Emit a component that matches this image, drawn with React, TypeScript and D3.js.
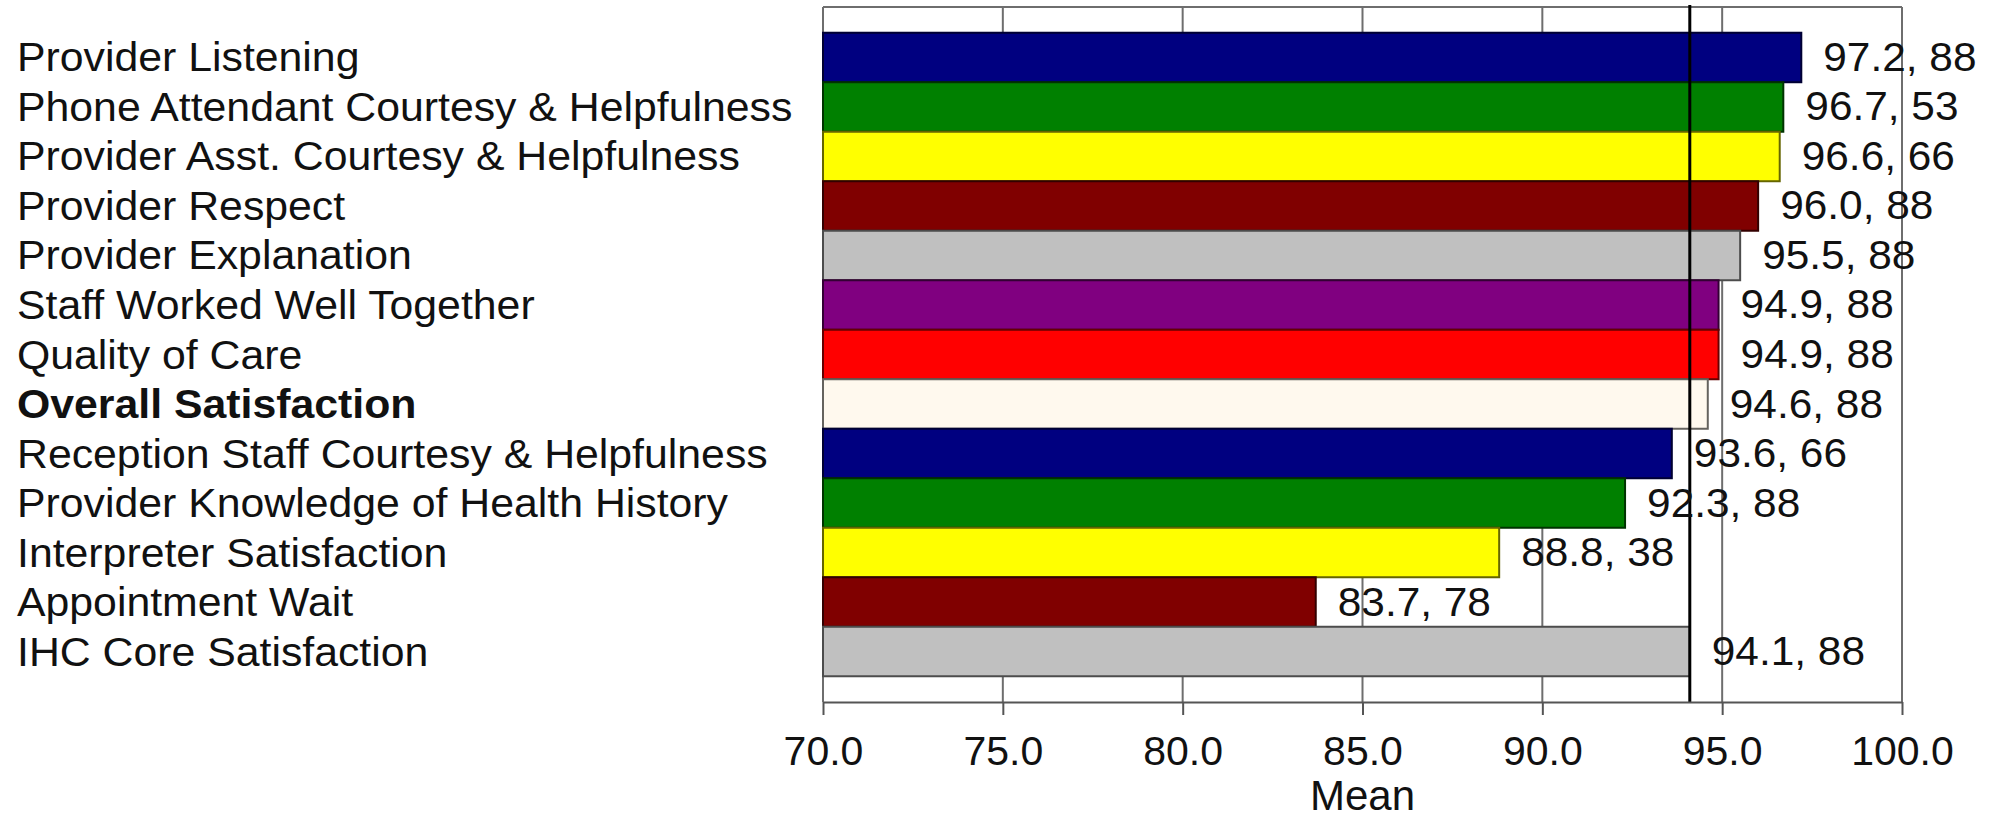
import React, { useEffect, useRef } from "react";
import * as d3 from "d3";

const categories = [
  "Provider Listening",
  "Phone Attendant Courtesy & Helpfulness",
  "Provider Asst. Courtesy & Helpfulness",
  "Provider Respect",
  "Provider Explanation",
  "Staff Worked Well Together",
  "Quality of Care",
  "Overall Satisfaction",
  "Reception Staff Courtesy & Helpfulness",
  "Provider Knowledge of Health History",
  "Interpreter Satisfaction",
  "Appointment Wait",
  "IHC Core Satisfaction",
];
const meanValues = [97.2, 96.7, 96.6, 96.0, 95.5, 94.9, 94.9, 94.6, 93.6, 92.3, 88.8, 83.7, 94.1];
const counts = [88, 53, 66, 88, 88, 88, 88, 88, 66, 88, 38, 78, 88];
const barColors = [
  "#000080", "#008000", "#FFFF00", "#800000", "#C0C0C0", "#800080", "#FF0000",
  "#FFF9EE", "#000080", "#008000", "#FFFF00", "#800000", "#C0C0C0",
];
const boldCategories = ["Overall Satisfaction"];
const referenceValue = 94.1;
const xDomain = [70, 100];
const xTicks = [70, 75, 80, 85, 90, 95, 100];
const xAxisTitle = "Mean";

const W = 1995;
const H = 820;
const plotLeft = 823;
const plotRight = 1902;
const plotTop = 7;
const plotBottom = 702;
const FONT = "'Liberation Sans', Arial, Helvetica, sans-serif";

export default function App() {
  const axisRef = useRef<SVGGElement>(null);
  const x = d3.scaleLinear().domain(xDomain).range([plotLeft, plotRight]);
  const y = d3
    .scaleBand<string>()
    .domain(categories)
    .range([plotTop, plotBottom])
    .paddingInner(0)
    .paddingOuter(0.52);

  useEffect(() => {
    if (!axisRef.current) return;
    const g = d3.select(axisRef.current);
    g.selectAll("*").remove();
    g.call(
      d3
        .axisBottom(x)
        .tickValues(xTicks)
        .tickFormat(d3.format(".1f") as any)
        .tickSize(13)
        .tickPadding(21)
        .tickSizeOuter(0)
    );
    g.select(".domain").attr("stroke", "#555").attr("stroke-width", 2);
    g.selectAll(".tick line").attr("stroke", "#555").attr("stroke-width", 2);
    g.selectAll(".tick text")
      .attr("fill", "#111")
      .style("font-family", FONT)
      .style("font-size", "41px");
  }, []);

  const bw = y.bandwidth();

  return (
    <div style={{ position: "absolute", left: 0, top: 0 }}>
      <svg width={W} height={H} style={{ display: "block", background: "#fff" }}>
        <rect x={0} y={0} width={W} height={H} fill="#fff" />
        {/* grid lines */}
        {xTicks.map((t) => (
          <line
            key={"g" + t}
            x1={x(t)}
            x2={x(t)}
            y1={plotTop}
            y2={plotBottom}
            stroke="#6e6e6e"
            strokeWidth={2}
          />
        ))}
        {/* top border */}
        <line x1={plotLeft} x2={plotRight} y1={plotTop} y2={plotTop} stroke="#6e6e6e" strokeWidth={2} />
        {/* bars */}
        {categories.map((c, i) => {
          const fill = barColors[i];
          const stroke = (d3.color(fill) as d3.RGBColor).darker(2.6).formatHex();
          return (
            <rect
              key={"b" + c}
              x={x(xDomain[0])}
              y={y(c)}
              width={x(meanValues[i]) - x(xDomain[0])}
              height={bw}
              fill={fill}
              stroke={stroke}
              strokeWidth={2}
            />
          );
        })}
        {/* reference line */}
        <line
          x1={x(referenceValue)}
          x2={x(referenceValue)}
          y1={plotTop - 2}
          y2={plotBottom + 1}
          stroke="#000"
          strokeWidth={3}
        />
        {/* axis */}
        <g ref={axisRef} transform={`translate(0,${plotBottom})`} />
        {/* category labels */}
        {categories.map((c) => (
          <text
            key={"c" + c}
            transform={`translate(17,${(y(c) as number) + bw / 2 + 14}) scale(1.07,1)`}
            fontFamily={FONT}
            fontSize={40}
            fontWeight={boldCategories.includes(c) ? "bold" : "normal"}
            fill="#111"
          >
            {c}
          </text>
        ))}
        {/* value labels */}
        {categories.map((c, i) => (
          <text
            key={"v" + c}
            transform={`translate(${x(meanValues[i]) + 22},${(y(c) as number) + bw / 2 + 13.5}) scale(1.06,1)`}
            fontFamily={FONT}
            fontSize={40}
            fill="#111"
          >
            {`${meanValues[i].toFixed(1)}, ${counts[i]}`}
          </text>
        ))}
        {/* x title */}
        <text
          x={(plotLeft + plotRight) / 2}
          y={810}
          textAnchor="middle"
          fontFamily={FONT}
          fontSize={42}
          fill="#111"
        >
          {xAxisTitle}
        </text>
      </svg>
    </div>
  );
}
